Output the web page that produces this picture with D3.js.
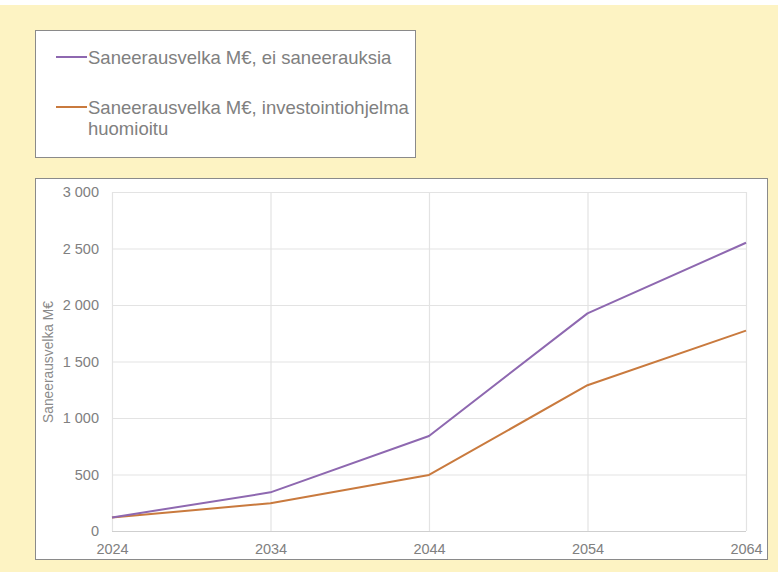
<!DOCTYPE html>
<html>
<head>
<meta charset="utf-8">
<script src="https://cdn.jsdelivr.net/npm/d3@7"></script>
<style>
    body { margin: 0; background: #ffffff; }
    svg { display: block; font-family: "Liberation Sans", Arial, sans-serif; }
</style>
</head>
<body>
<div id="chart"></div>
<script>
const years = [2024, 2034, 2044, 2054, 2064];
const velkaEiSaneerauksia = [120, 342, 841, 1926, 2551];
const velkaInvestointiohjelma = [120, 245, 496, 1290, 1773];
const yTicks = [0, 500, 1000, 1500, 2000, 2500, 3000];
const seriesNames = ["Saneerausvelka M€, ei saneerauksia", "Saneerausvelka M€, investointiohjelma", "huomioitu"];
const yAxisLabelText = "Saneerausvelka M€";

const width = 778, height = 572;
const purple = "#8e68b0", orange = "#c97a3e";
const textGrey = "#808080";

let svg = d3.select("#chart").append("svg")
    .attr("width", width)
    .attr("height", height);

// yellow slide background
svg.append("rect")
    .attr("x", 0).attr("y", 5)
    .attr("width", width).attr("height", height - 5)
    .attr("fill", "#fdf3c3");

// legend box
svg.append("rect")
    .attr("x", 35.5).attr("y", 30.5)
    .attr("width", 380).attr("height", 127)
    .attr("fill", "#ffffff")
    .attr("stroke", "#8a8a8a");

let legendRows = [
    { color: purple, lines: [seriesNames[0]], y: 57 },
    { color: orange, lines: [seriesNames[1], seriesNames[2]], y: 107 }
];
legendRows.forEach(row => {
    svg.append("line")
        .attr("x1", 56).attr("x2", 87)
        .attr("y1", row.y).attr("y2", row.y)
        .attr("stroke", row.color)
        .attr("stroke-width", 2);
    let t = svg.append("text")
        .attr("x", 88).attr("y", row.y + 7)
        .attr("fill", textGrey)
        .style("font-size", "18.5px");
    row.lines.forEach((s, i) => {
        t.append("tspan")
            .attr("x", 88)
            .attr("dy", i == 0 ? 0 : 21)
            .text(s);
    });
});

// chart box
svg.append("rect")
    .attr("x", 35.5).attr("y", 178.5)
    .attr("width", 732).attr("height", 381)
    .attr("fill", "#ffffff")
    .attr("stroke", "#8a8a8a");

const plot = { left: 112, right: 746, top: 192, bottom: 531 };

let scaleX = d3.scaleLinear()
    .domain([d3.min(years), d3.max(years)])
    .range([plot.left, plot.right]);
let scaleY = d3.scaleLinear()
    .domain([0, 3000])
    .range([plot.bottom, plot.top]);

// grid
svg.append("g")
    .selectAll("line")
    .data(yTicks)
    .enter()
    .append("line")
        .attr("x1", plot.left).attr("x2", plot.right)
        .attr("y1", d => scaleY(d) + 0.5).attr("y2", d => scaleY(d) + 0.5)
        .attr("stroke", d => d == 0 ? "#cfcfcf" : "#e3e3e3")
        .attr("stroke-width", 1.2);
svg.append("g")
    .selectAll("line")
    .data(years)
    .enter()
    .append("line")
        .attr("x1", d => scaleX(d) + 0.5).attr("x2", d => scaleX(d) + 0.5)
        .attr("y1", plot.top).attr("y2", plot.bottom)
        .attr("stroke", "#e3e3e3")
        .attr("stroke-width", 1.2);

// axes (labels only, like the original)
let fmt = d => d3.format(",")(d).replace(",", " ");
let axisY = d3.axisLeft(scaleY).tickValues(yTicks).tickFormat(fmt).tickSize(0).tickPadding(13);
let gY = svg.append("g")
    .attr("transform", `translate(${ plot.left }, 0)`)
    .call(axisY);
let axisX = d3.axisBottom(scaleX).tickValues(years).tickFormat(d => d.toString()).tickSize(0).tickPadding(13);
let gX = svg.append("g")
    .attr("transform", `translate(0, ${ plot.bottom })`)
    .call(axisX);
[gX, gY].forEach(g => {
    g.select(".domain").remove();
    g.selectAll("text")
        .attr("fill", textGrey)
        .style("font-size", "14.5px")
        .style("font-family", "'Liberation Sans', Arial, sans-serif");
});

svg.append("text")
    .attr("transform", `translate(53, 362) rotate(-90)`)
    .attr("text-anchor", "middle")
    .attr("fill", "#8a8a8a")
    .style("font-size", "13.8px")
    .text(yAxisLabelText);

// lines
let line = d3.line()
    .x((d, i) => scaleX(years[i]))
    .y(d => scaleY(d));
[[velkaInvestointiohjelma, orange], [velkaEiSaneerauksia, purple]].forEach(([data, color]) => {
    svg.append("path")
        .datum(data)
        .attr("d", line)
        .attr("fill", "none")
        .attr("stroke", color)
        .attr("stroke-width", 2)
        .attr("stroke-linejoin", "round");
});
</script>
</body>
</html>
